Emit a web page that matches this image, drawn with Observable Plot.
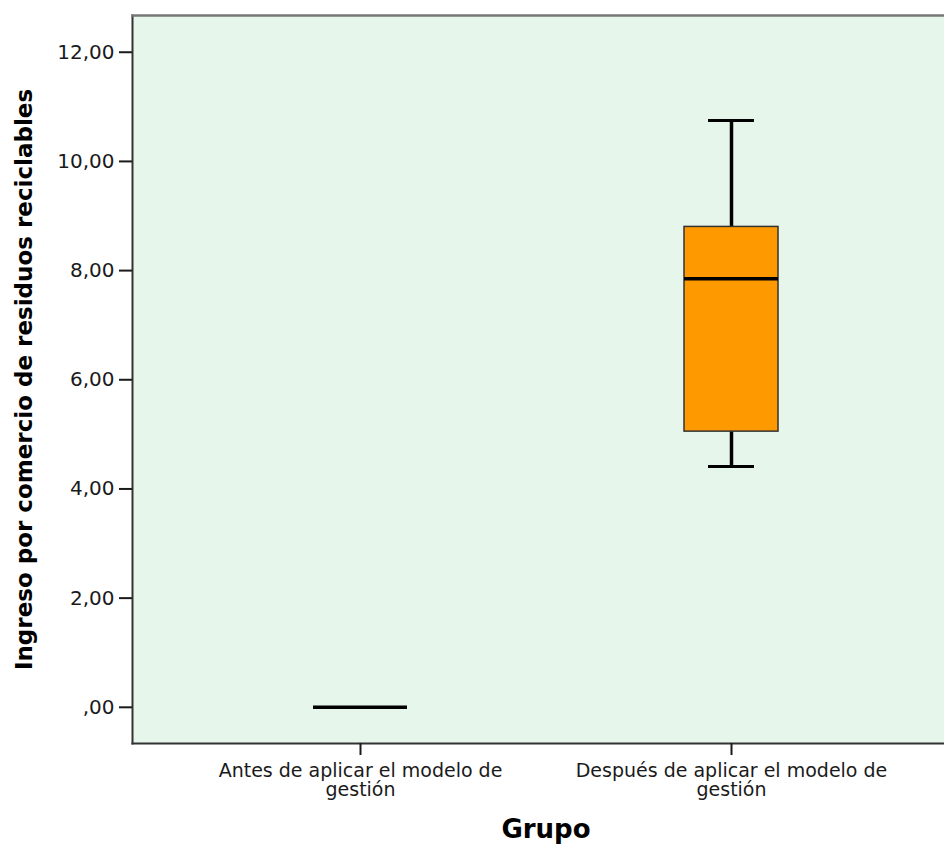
<!DOCTYPE html>
<html><head><meta charset="utf-8">
<script src="https://cdn.jsdelivr.net/npm/d3@7"></script>
<script src="https://cdn.jsdelivr.net/npm/@observablehq/plot@0.6"></script>
<style>html,body{margin:0;padding:0;background:#fff;overflow:hidden}</style>
</head><body><div id="chart"></div>
<script>
const grupos = ["Antes de aplicar el modelo de\ngestión", "Después de aplicar el modelo de\ngestión"];
const minimo = [0, 4.41];
const cuartil1 = [0, 5.05];
const mediana = [0, 7.85];
const cuartil3 = [0, 8.80];
const maximo = [0, 10.75];
const yTicks = [0, 2, 4, 6, 8, 10, 12];
const yLabel = "Ingreso por comercio de residuos reciclables";
const xLabel = "Grupo";

const rows = grupos.map((g, i) => ({grupo: g, min: minimo[i], q1: cuartil1[i], med: mediana[i], q3: cuartil3[i], max: maximo[i]}));
const fmt = d => d === 0 ? ",00" : d.toFixed(2).replace(".", ",");

const chart = Plot.plot({
  width: 944, height: 844,
  marginLeft: 132, marginRight: -15, marginTop: 15, marginBottom: 101,
  style: {fontFamily: "DejaVu Sans", fontSize: "20px", color: "#1a1a1a", background: "#fff"},
  x: {type: "band", domain: grupos, paddingInner: 0.747, paddingOuter: 0.488, label: null},
  y: {domain: [-0.663, 12.673], label: null},
  marks: [
    Plot.frame({fill: "#e7f6ea", stroke: null}),
    Plot.ruleX(rows.filter(d => d.max > d.min), {x: "grupo", y1: "q3", y2: "max", stroke: "#000", strokeWidth: 3.5}),
    Plot.ruleX(rows.filter(d => d.max > d.min), {x: "grupo", y1: "min", y2: "q1", stroke: "#000", strokeWidth: 3.5}),
    Plot.tickY(rows.filter(d => d.max > d.min), {x: "grupo", y: "max", inset: 24, stroke: "#000", strokeWidth: 3}),
    Plot.tickY(rows.filter(d => d.max > d.min), {x: "grupo", y: "min", inset: 24, stroke: "#000", strokeWidth: 3}),
    Plot.barY(rows.filter(d => d.q3 > d.q1), {x: "grupo", y1: "q1", y2: "q3", fill: "#ff9900", stroke: "#333", strokeWidth: 1.5}),
    Plot.tickY(rows, {x: "grupo", y: "med", stroke: "#000", strokeWidth: 3.5}),
    Plot.frame({anchor: "left", stroke: "#333", strokeWidth: 2}),
    Plot.frame({anchor: "bottom", stroke: "#333", strokeWidth: 2}),
    Plot.frame({anchor: "top", stroke: "#777", strokeWidth: 2.5}),
    Plot.axisY({ticks: yTicks, tickFormat: fmt, tickSize: 13, tickPadding: 5, strokeWidth: 2, label: null}),
    Plot.axisX({tickSize: 12, tickPadding: 8, fontSize: 19, lineHeight: 1.0, strokeWidth: 2, label: null}),
    Plot.text([yLabel], {frameAnchor: "left", dx: -108, rotate: -90, text: d => d, textAnchor: "middle", fontWeight: "bold", fontSize: 23, fill: "#000", lineAnchor: "middle"}),
    Plot.text([xLabel], {frameAnchor: "bottom", dy: 86, text: d => d, textAnchor: "middle", fontWeight: "bold", fontSize: 26, fill: "#000", lineAnchor: "middle"})
  ]
});
document.getElementById("chart").append(chart);
</script>
</body></html>
